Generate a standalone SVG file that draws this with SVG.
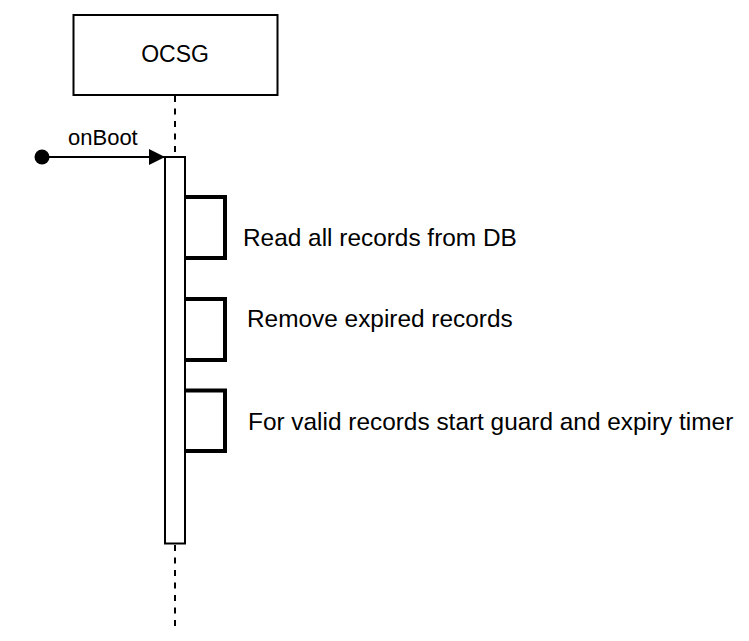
<svg xmlns="http://www.w3.org/2000/svg" width="749" height="641" viewBox="0 0 749 641">
<defs>
<style>
text{font-family:"Liberation Sans",Arial,sans-serif;fill:#000}
.life{stroke:#000;stroke-width:2;stroke-dasharray:6 6.5;fill:none}
.box{fill:#fff;stroke:#000;stroke-width:2}
.loop{fill:none;stroke:#000;stroke-width:4}
.lbl{font-size:24.4px}
</style>
<marker id="arr" markerWidth="16" markerHeight="16" refX="16" refY="8" orient="auto" markerUnits="userSpaceOnUse">
<path d="M0,0 L16,8 L0,16 Z" fill="#000"/>
</marker>
</defs>
<rect width="749" height="641" fill="#fff"/>
<g id="lifeline">
<line class="life" x1="175" y1="96" x2="175" y2="157"/>
<line class="life" x1="175" y1="545" x2="175" y2="626"/>
</g>
<g id="ocsg">
<rect class="box" x="73.5" y="15" width="204" height="80"/>
<text x="175" y="62" font-size="23" text-anchor="middle">OCSG</text>
</g>
<g id="activation">
<rect class="box" x="165" y="157" width="20" height="386.5"/>
</g>
<g id="connectors">
<circle cx="42" cy="157" r="7.5" fill="#000"/>
<line x1="42" y1="157" x2="165" y2="157" stroke="#000" stroke-width="2" marker-end="url(#arr)"/>
<text x="68" y="145" font-size="22">onBoot</text>
<polyline class="loop" points="185,197 225,197 225,258 185,258"/>
<polyline class="loop" points="185,299 225,299 225,360 185,360"/>
<polyline class="loop" points="185,390.5 225,390.5 225,451 185,451"/>
</g>
<g id="labels">
<text class="lbl" x="243" y="246">Read all records from DB</text>
<text class="lbl" x="247" y="327">Remove expired records</text>
<text class="lbl" x="248" y="430">For valid records start guard and expiry timer</text>
</g>
</svg>
